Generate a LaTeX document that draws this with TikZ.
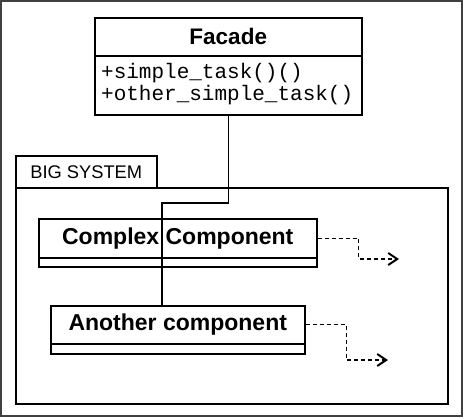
\documentclass[tikz,border=0pt]{standalone}
\usepackage{fontspec}
\setmainfont{Liberation Sans}
\setmonofont{Liberation Mono}
\usetikzlibrary{arrows.meta,calc}
\begin{document}
\begin{tikzpicture}[x=1pt,y=-1pt,
  box/.style={draw,line width=1.5pt,rectangle,inner sep=0pt,anchor=north west},
  classname/.style={font=\bfseries\fontsize{23}{25}\selectfont},
  method/.style={anchor=base west,inner sep=0pt,font=\ttfamily\fontsize{21}{22}\selectfont},
  link/.style={line width=1.3pt},
  depend/.style={line width=1.3pt,dash pattern=on 4pt off 3pt,
    -{Straight Barb[length=9pt,width=12pt,line width=2pt]}}]
\useasboundingbox (0,0) rectangle (464,418);
\draw[line width=1.8pt,draw=black!75] (1,1) rectangle (462,416);
% Facade
\node[box,classname,font=\bfseries\fontsize{22.5}{25}\selectfont,minimum width=267pt,minimum height=38pt] (facade) at (94,17) {Facade};
\node[box,minimum width=267pt,minimum height=59pt] (facadeops) at (94,55) {};
\node[method] (op1) at (101,78) {+simple\_task()()};
\node[method] (op2) at (101,100) {+other\_simple\_task()};
% Big system package
\node[box,minimum width=141pt,minimum height=32pt,font=\fontsize{18.3}{20}\selectfont] (tab) at (15,155) {BIG SYSTEM};
\node[box,minimum width=432pt,minimum height=216pt] (system) at (15,187) {};
% Complex Component
\node[box,classname,minimum width=278pt,minimum height=39pt] (complex) at (38,218) {Complex Component};
\node[box,minimum width=278pt,minimum height=9pt] (complexbody) at (38,257) {};
% Another component
\node[box,classname,minimum width=254pt,minimum height=38pt] (another) at (50,305) {Another component};
\node[box,minimum width=254pt,minimum height=10pt] (anotherbody) at (50,343) {};
% connector Facade -> Another component
\coordinate (jog) at (162,203);
\draw[link] (facade.south |- facadeops.south) |- (jog) -- (jog |- another.north);
% dependency arrows
\coordinate (tip1) at (399,259);
\coordinate (tip2) at (388,360);
\draw[depend] (complex.east) -- ++(41,0) |- (tip1);
\draw[depend] (another.east) -- ++(41,0) |- (tip2);
\end{tikzpicture}
\end{document}
